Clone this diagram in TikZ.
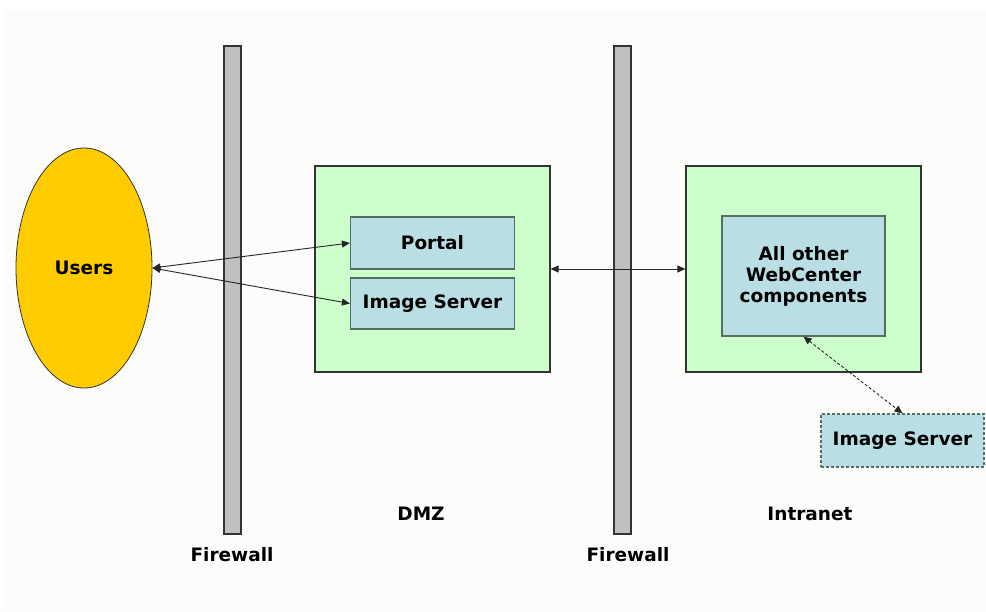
\documentclass[tikz,border=0pt]{standalone}
\usepackage{fontspec}
\setmainfont{DejaVu Sans}
\usetikzlibrary{arrows.meta,shapes.geometric}
\definecolor{usergold}{RGB}{255,204,0}
\definecolor{zonegreen}{RGB}{204,255,204}
\definecolor{srvblue}{RGB}{185,222,228}
\definecolor{srvedge}{RGB}{85,110,100}
\definecolor{fwgray}{RGB}{192,192,192}
\definecolor{bgtint}{RGB}{252,253,251}
\begin{document}
\begin{tikzpicture}[x=1pt,y=-1pt,
  lbl/.style={font=\fontsize{18.5}{21}\selectfont\bfseries, text=black, align=center},
  zone/.style={draw=black!80, fill=zonegreen, line width=1.2pt, inner sep=0pt},
  srv/.style={draw=srvedge, fill=srvblue, line width=1.2pt, inner sep=0pt, lbl},
  fw/.style={draw=black!80, fill=fwgray, line width=1.2pt, inner sep=0pt},
  link/.style={{Triangle[length=8pt,width=7pt]}-{Triangle[length=8pt,width=7pt]},
               line width=0.9pt, black!85}]
\useasboundingbox (0,0) rectangle (986,611);
\fill[bgtint] (3,10) rectangle (986,611);

% firewalls
\node[fw, minimum width=17, minimum height=488] (fw1) at (232.5,290) {};
\node[fw, minimum width=17, minimum height=488] (fw2) at (622.5,290) {};
\node[lbl] (fwl1) at (232,555) {Firewall};
\node[lbl] (fwl2) at (628,555) {Firewall};

% users
\node[ellipse, draw=black!80, fill=usergold, line width=0.8pt, inner sep=0pt,
      minimum width=136, minimum height=240, lbl] (users) at (84,268) {Users};

% DMZ zone
\node[zone, minimum width=235, minimum height=206] (dmz) at (432.5,269) {};
\node[srv, minimum width=164, minimum height=52] (portal) at (432.5,243) {Portal};
\node[srv, minimum width=164, minimum height=51] (img1) at (432.5,303.5) {Image Server};
\node[lbl] (dmzl) at (421,514) {DMZ};

% intranet zone
\node[zone, minimum width=235, minimum height=206] (intra) at (803.5,269) {};
\node[srv, minimum width=163, minimum height=120] (comps) at (803.5,276)
     {All other\\WebCenter\\components};
\node[srv, dash pattern=on 3pt off 2pt, minimum width=163, minimum height=53]
     (img2) at (902.5,440.5) {Image Server};
\node[lbl] (intral) at (810,514) {Intranet};

% connections
\draw[link] (users.east) -- (portal.west);
\draw[link] (users.east) -- (img1.west);
\draw[link] (dmz.east) -- (intra.west);
\draw[link, dash pattern=on 3pt off 2pt] (comps.south) -- (img2.north);
\end{tikzpicture}
\end{document}
